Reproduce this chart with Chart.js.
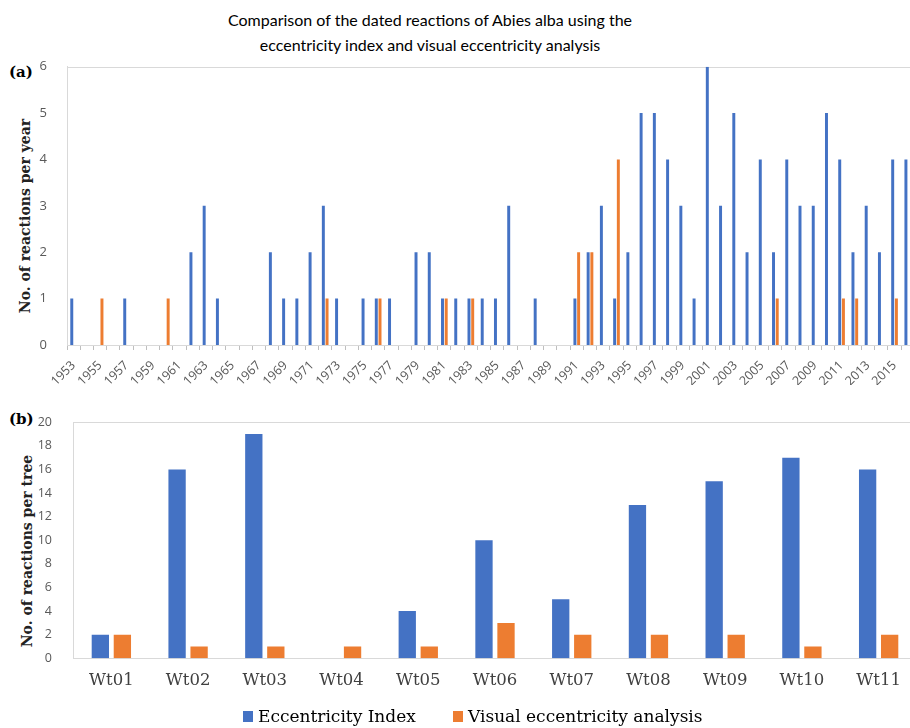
<!DOCTYPE html>
<html>
<head>
<meta charset="utf-8">
<script src="https://cdn.jsdelivr.net/npm/chart.js@4.4.1/dist/chart.umd.min.js"></script>
<style>
  html, body { margin: 0; padding: 0; background: #fff; width: 910px; height: 728px; overflow: hidden; position: relative; }
  canvas { position: absolute; left: 0; }
  .title { position: absolute; left: 0; top: 7px; width: 860px; text-align: center; font-family: "Lato", sans-serif; font-size: 16px; line-height: 25px; color: #000; }
  .panel { position: absolute; font-family: "DejaVu Serif", serif; font-weight: bold; font-size: 15px; color: #000; }
  .ytitle { position: absolute; font-family: "DejaVu Serif", serif; font-weight: bold; font-size: 14px; color: #222; white-space: nowrap; transform: translate(-50%, -50%) rotate(-90deg); }
  .leg { position: absolute; top: 705px; font-family: "DejaVu Serif", serif; font-size: 17px; color: #000; white-space: nowrap; display: flex; align-items: center; height: 22px; }
  .leg span.sw { display: inline-block; width: 10px; height: 11px; margin-right: 5px; }
</style>
</head>
<body>
<div class="title">Comparison of the dated reactions of Abies alba using the<br>eccentricity index and visual eccentricity analysis</div>
<div class="panel" style="left:9px; top:63px;">(a)</div>
<div class="panel" style="left:9px; top:410px;">(b)</div>
<div class="ytitle" style="left:25px; top:216px;">No. of reactions per year</div>
<div class="ytitle" style="left:27px; top:551px;">No. of reactions per tree</div>
<canvas id="c1" width="930" height="385" style="top:0px;"></canvas>
<canvas id="c2" width="930" height="348" style="top:380px;"></canvas>
<div class="leg" style="left:243px;"><span class="sw" style="background:#4472C4"></span>Eccentricity Index</div>
<div class="leg" style="left:453px;"><span class="sw" style="background:#ED7D31"></span>Visual eccentricity analysis</div>
<script>
// ---- Data: panel (a) reactions per year ----
const years = ["1953","1954","1955","1956","1957","1958","1959","1960","1961","1962","1963","1964","1965","1966","1967","1968","1969","1970","1971","1972","1973","1974","1975","1976","1977","1978","1979","1980","1981","1982","1983","1984","1985","1986","1987","1988","1989","1990","1991","1992","1993","1994","1995","1996","1997","1998","1999","2000","2001","2002","2003","2004","2005","2006","2007","2008","2009","2010","2011","2012","2013","2014","2015","2016"];
const eccIndexPerYear = [1,0,0,0,1,0,0,0,0,2,3,1,0,0,0,2,1,1,2,3,1,0,1,1,1,0,2,2,1,1,1,1,1,3,0,1,0,0,1,2,3,1,2,5,5,4,3,1,6,3,5,2,4,2,4,3,3,5,4,2,3,2,4,4];
const visualPerYear   = [0,0,1,0,0,0,0,1,0,0,0,0,0,0,0,0,0,0,0,1,0,0,0,1,0,0,0,0,1,0,1,0,0,0,0,0,0,0,2,2,0,4,0,0,0,0,0,0,0,0,0,0,0,1,0,0,0,0,1,1,0,0,1,0];
const yearTicks = [0,1,2,3,4,5,6];

// ---- Data: panel (b) reactions per tree ----
const trees = ["Wt01","Wt02","Wt03","Wt04","Wt05","Wt06","Wt07","Wt08","Wt09","Wt10","Wt11"];
const eccIndexPerTree = [2,16,19,0,4,10,5,13,15,17,16];
const visualPerTree   = [2,1,1,1,1,3,2,2,2,1,2];
const treeTicks = [0,2,4,6,8,10,12,14,16,18,20];

const seriesNames = ["Eccentricity Index","Visual eccentricity analysis"];
const BLUE = "#4472C4", ORANGE = "#ED7D31";

const borderPlugin = {
  id: 'plotBorder',
  beforeDatasetsDraw(chart) {
    const a = chart.chartArea, ctx = chart.ctx;
    ctx.save();
    ctx.strokeStyle = '#d9d9d9';
    ctx.lineWidth = 1;
    ctx.strokeRect(Math.round(a.left) + 0.5, Math.round(a.top) + 0.5, Math.round(a.right - a.left), Math.round(a.bottom - a.top));
    ctx.restore();
  }
};

new Chart(document.getElementById('c1'), {
  type: 'bar',
  data: {
    labels: years,
    datasets: [
      { label: seriesNames[0], data: eccIndexPerYear, backgroundColor: BLUE, barPercentage: 0.8, categoryPercentage: 0.56 },
      { label: seriesNames[1], data: visualPerYear, backgroundColor: ORANGE, barPercentage: 0.8, categoryPercentage: 0.56 }
    ]
  },
  options: {
    responsive: false,
    animation: false,
    layout: { padding: { top: 66.7, right: 15.6, left: 0, bottom: 0 } },
    plugins: { legend: { display: false }, tooltip: { enabled: false } },
    scales: {
      x: {
        grid: { display: true, drawOnChartArea: false, drawTicks: true, tickLength: 5, color: '#bfbfbf', offset: true },
        border: { display: true, color: '#d9d9d9' },
        ticks: {
          autoSkip: false, minRotation: 45, maxRotation: 45, padding: 8,
          color: '#595959', font: { family: "'Open Sans', sans-serif", size: 12.5 },
          callback: (v, i) => (i % 2 === 0 ? years[i] : '')
        },
        afterFit: s => { s.height = 40; }
      },
      y: {
        min: 0, max: 6,
        grid: { display: false },
        border: { display: true, color: '#d9d9d9' },
        afterBuildTicks: s => { s.ticks = yearTicks.map(v => ({ value: v })); },
        ticks: { color: '#595959', font: { family: "'Open Sans', sans-serif", size: 13 }, padding: 12 },
        afterFit: s => { s.width = 67; }
      }
    }
  },
  plugins: [borderPlugin]
});

new Chart(document.getElementById('c2'), {
  type: 'bar',
  data: {
    labels: trees,
    datasets: [
      { label: seriesNames[0], data: eccIndexPerTree, backgroundColor: BLUE, barPercentage: 0.786, categoryPercentage: 0.574 },
      { label: seriesNames[1], data: visualPerTree, backgroundColor: ORANGE, barPercentage: 0.786, categoryPercentage: 0.574 }
    ]
  },
  options: {
    responsive: false,
    animation: false,
    layout: { padding: { top: 42.3, right: 13, left: 0, bottom: 0 } },
    plugins: { legend: { display: false }, tooltip: { enabled: false } },
    scales: {
      x: {
        grid: { display: false, drawTicks: false },
        border: { display: true, color: '#d9d9d9' },
        ticks: { color: '#404040', font: { family: "'DejaVu Serif', serif", size: 16.5 }, padding: 13, maxRotation: 0, minRotation: 0 },
        afterFit: s => { s.height = 69.7; }
      },
      y: {
        min: 0, max: 20,
        grid: { display: false },
        border: { display: true, color: '#d9d9d9' },
        afterBuildTicks: s => { s.ticks = treeTicks.map(v => ({ value: v })); },
        ticks: { color: '#595959', font: { family: "'Open Sans', sans-serif", size: 12.5 }, padding: 13 },
        afterFit: s => { s.width = 73; }
      }
    }
  },
  plugins: [borderPlugin]
});
</script>
</body>
</html>
